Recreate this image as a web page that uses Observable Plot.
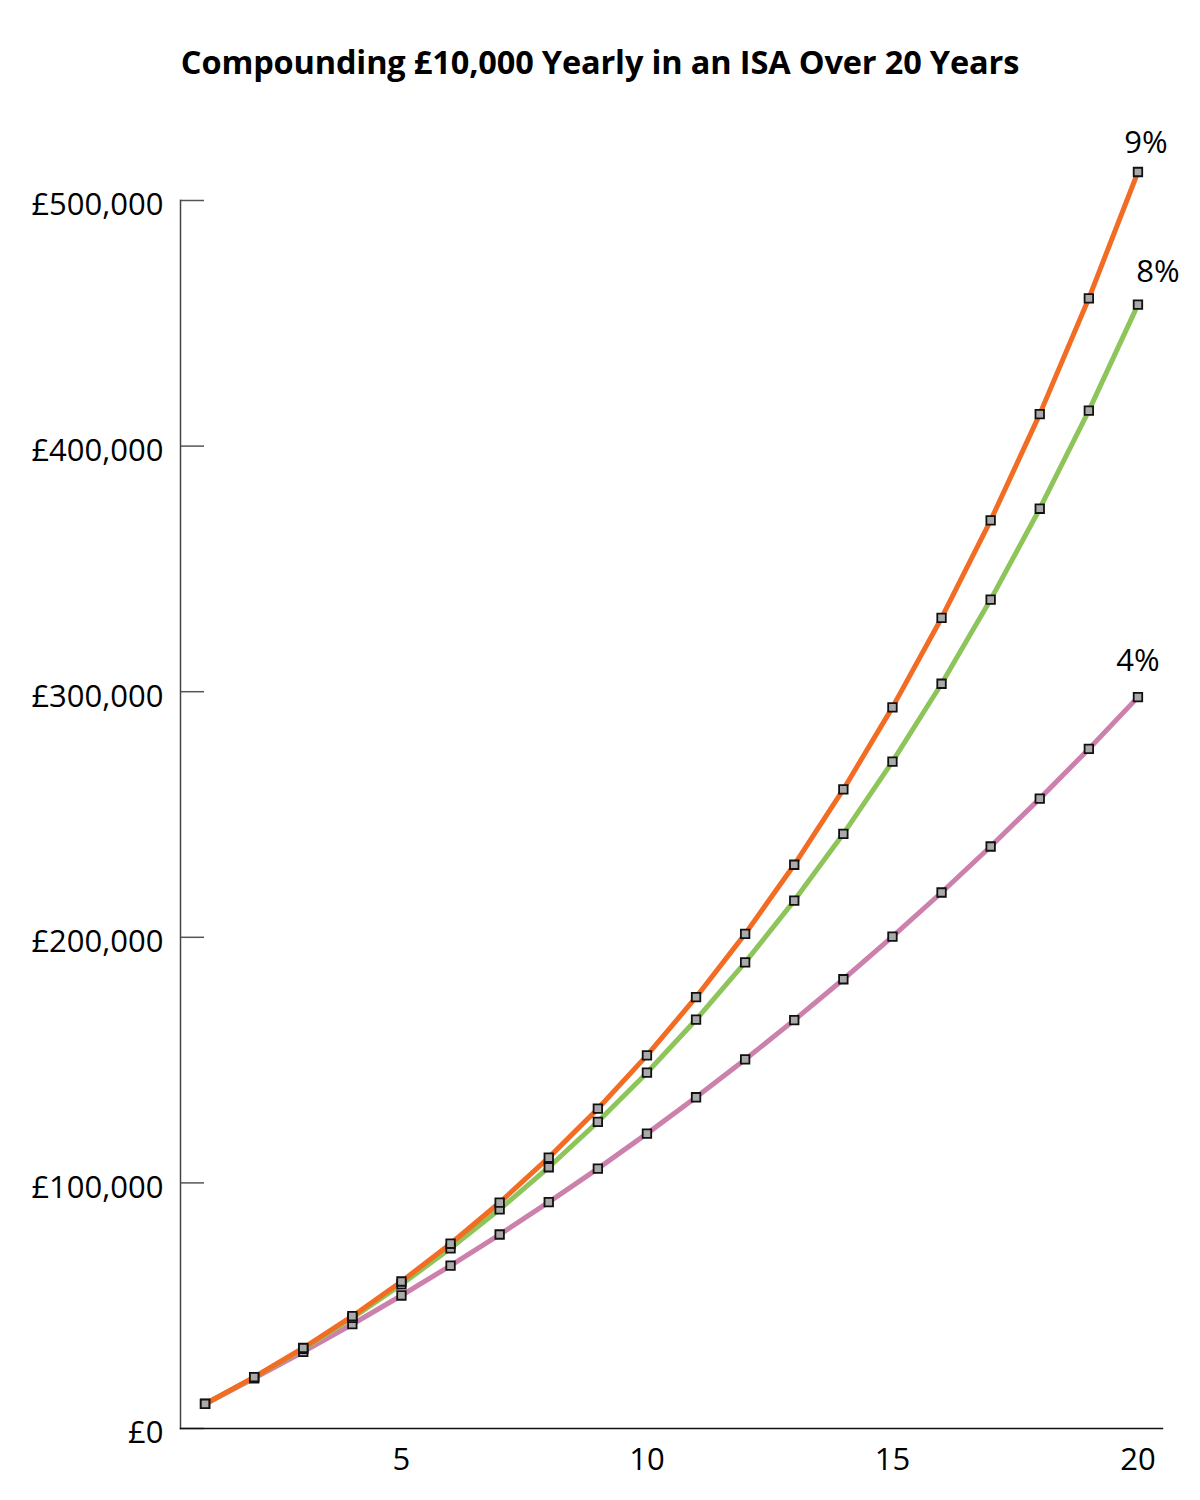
<!DOCTYPE html>
<html>
<head>
<meta charset="utf-8">
<script src="https://cdn.jsdelivr.net/npm/d3@7"></script>
<script src="https://cdn.jsdelivr.net/npm/@observablehq/plot@0.6"></script>
<style>
  body { margin: 0; background: #fff; font-family: "Open Sans", sans-serif; }
  #title { height: 120px; box-sizing: border-box; padding-top: 40px; text-align: center;
           font-weight: 700; font-size: 32.5px; line-height: 44px; color: #000; letter-spacing: -0.15px; }
  #chart svg { display: block; }
</style>
</head>
<body>
<div id="title">Compounding £10,000 Yearly in an ISA Over 20 Years</div>
<div id="chart"></div>
<script>
const years = [1,2,3,4,5,6,7,8,9,10,11,12,13,14,15,16,17,18,19,20];
const rate9 = [10000,20900,32781,45731,59847,75233,92004,110285,130210,151929,175603,201407,229534,260192,293609,330034,369737,413013,460185,511601];
const rate8 = [10000,20800,32464,45061,58666,73359,89228,106366,124876,144866,166455,189771,214953,242149,271521,303243,337502,374502,414463,457620];
const rate4 = [10000,20400,31216,42465,54163,66330,78983,92142,105828,120061,134864,150258,166268,182919,200236,218245,236975,256454,276712,297781];
const seriesNames = ["4%", "8%", "9%"];
const seriesColors = ["#CC80AC", "#8EC55A", "#F26C23"];
const yTicks = [0, 100000, 200000, 300000, 400000, 500000];
const xTicks = [5, 10, 15, 20];

const seriesValues = {"4%": rate4, "8%": rate8, "9%": rate9};
const rows = seriesNames.flatMap(s => years.map((yr, i) => ({series: s, year: yr, value: seriesValues[s][i]})));
const last = s => rows.filter(d => d.series === s && d.year === years[years.length - 1]);

const fmt = d3.format(",");
const chart = Plot.plot({
  width: 1200,
  height: 1380,
  marginTop: 80,
  marginBottom: 72,
  marginLeft: 180,
  marginRight: 38,
  style: {fontFamily: "'Open Sans', sans-serif", fontSize: "30px", color: "#000", background: "#fff"},
  x: {domain: [0.5, 20.5], ticks: xTicks},
  y: {domain: [0, 500000], ticks: yTicks},
  color: {domain: seriesNames, range: seriesColors},
  marks: [
    Plot.axisY(yTicks, {anchor: "left", tickSize: 0, tickPadding: 17, fontSize: 31, dy: 5,
      tickFormat: d => "£" + fmt(d), label: null}),
    Plot.axisY(yTicks, {anchor: "left", tickSize: -24, text: null, stroke: "#555", strokeWidth: 1.5, label: null}),
    Plot.axisX(xTicks, {anchor: "bottom", tickSize: 0, tickPadding: 19, fontSize: 31, label: null}),
    Plot.frame({anchor: "left", stroke: "#444", strokeWidth: 1.5}),
    Plot.frame({anchor: "bottom", stroke: "#111", strokeWidth: 1.5}),
    Plot.line(rows, {x: "year", y: "value", z: "series", stroke: "series", strokeWidth: 5}),
    Plot.dot(rows, {x: "year", y: "value", symbol: "square", r: 4.8, fill: "#AAAAAA", stroke: "#111", strokeWidth: 1.8}),
    Plot.text(last("9%"), {x: "year", y: "value", text: "series", dx: 8, dy: -29, fontSize: 31, fill: "#000"}),
    Plot.text(last("8%"), {x: "year", y: "value", text: "series", dx: 20, dy: -33, fontSize: 31, fill: "#000"}),
    Plot.text(last("4%"), {x: "year", y: "value", text: "series", dx: 0, dy: -36, fontSize: 31, fill: "#000"})
  ]
});
document.getElementById("chart").appendChild(chart);
</script>
</body>
</html>
